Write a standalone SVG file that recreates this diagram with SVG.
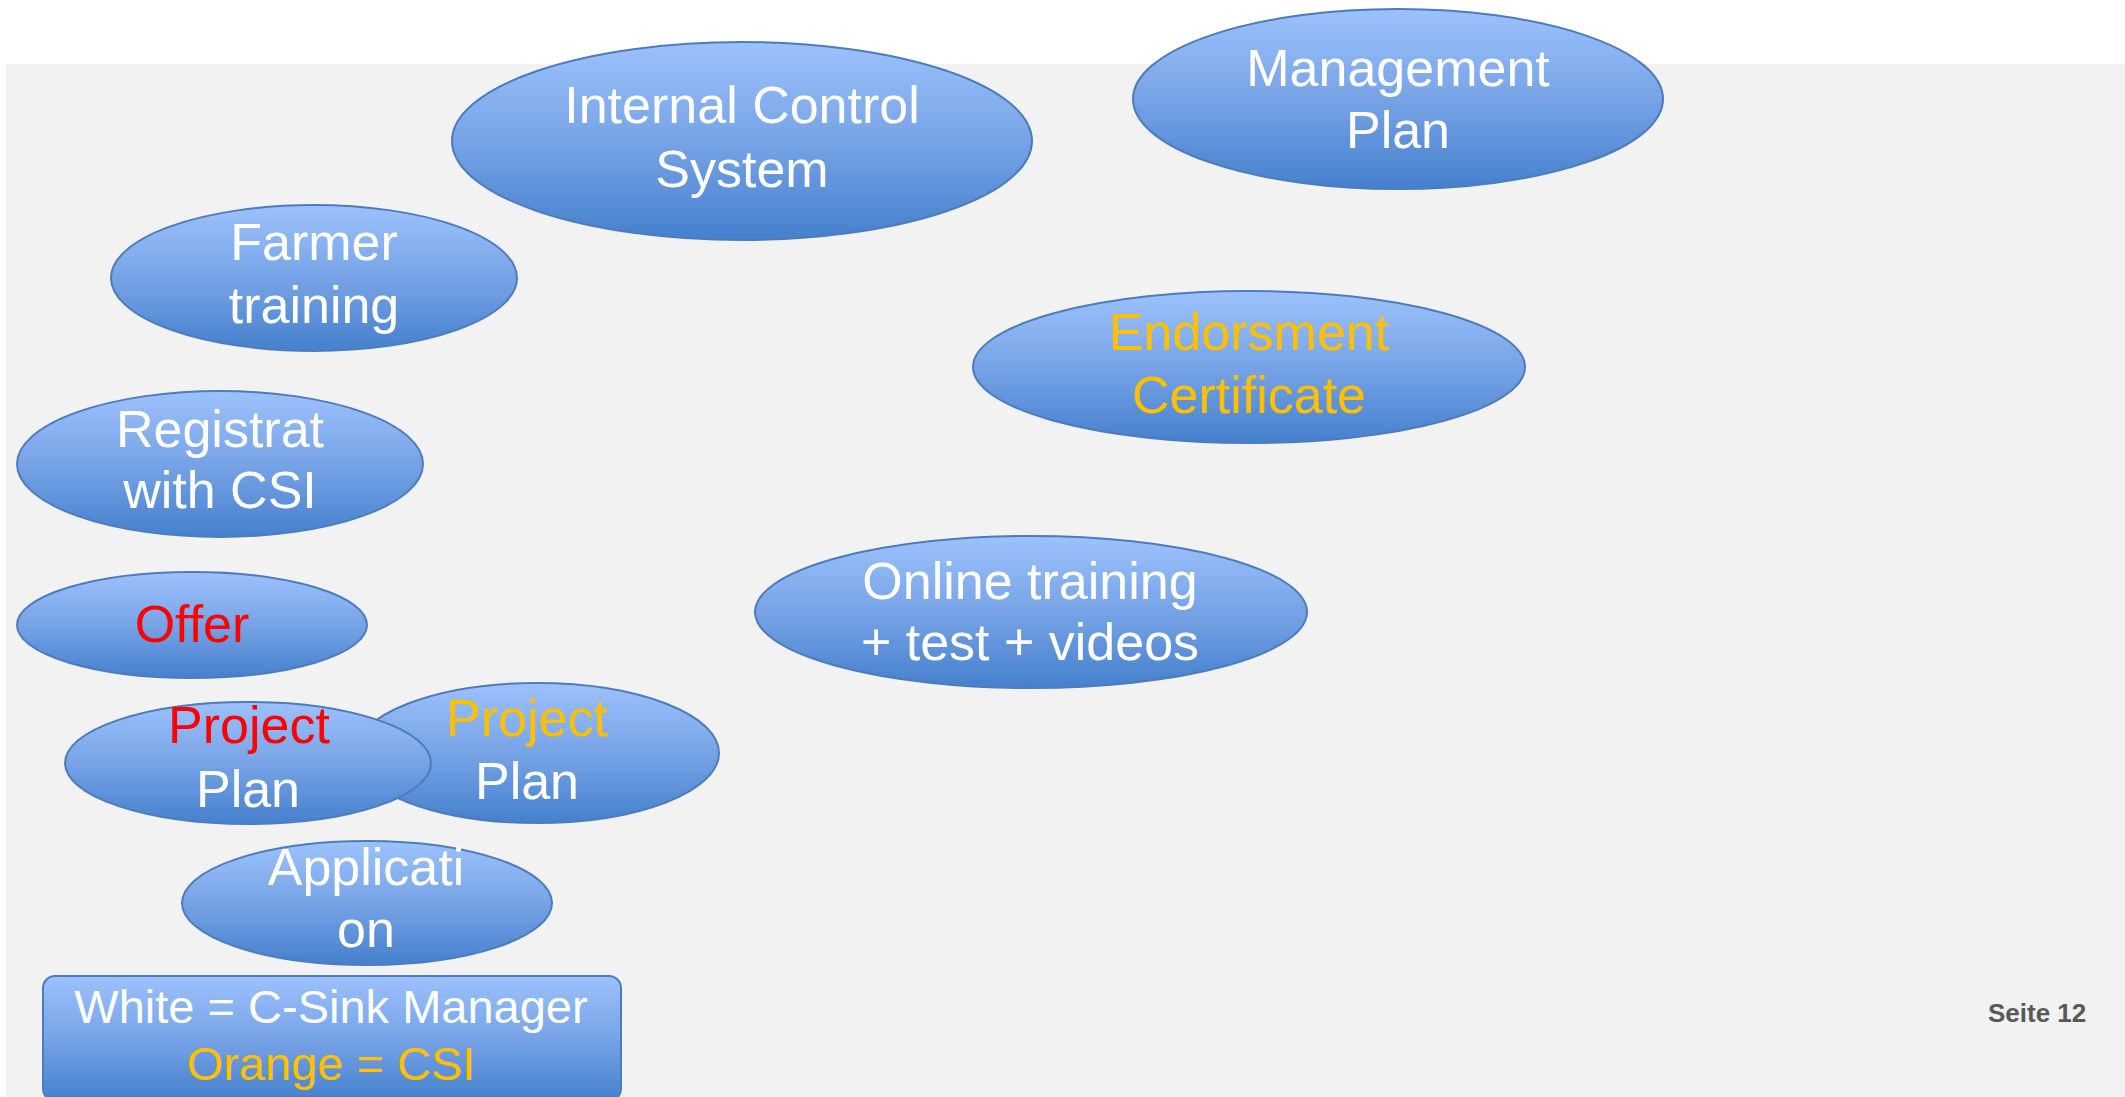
<svg xmlns="http://www.w3.org/2000/svg" width="2125" height="1097" viewBox="0 0 2125 1097">
<defs>
<linearGradient id="blue" x1="0" y1="0" x2="0" y2="1">
<stop offset="0" stop-color="#9CC2FC"/>
<stop offset="0.5" stop-color="#77A3E6"/>
<stop offset="1" stop-color="#4580CD"/>
</linearGradient>
</defs>
<style>
.n{fill:url(#blue);stroke:#4C7CBE;stroke-width:2}
.hl{fill:none;stroke:#2F3F5A;stroke-width:1.5;stroke-dasharray:10 6 3 5}
.t{font-family:"Liberation Sans",Arial,sans-serif;font-size:52px;fill:#FFFFFF;text-anchor:middle}
.lg{font-size:47px}
.o{fill:#FFC000}
.r{fill:#FF0000}
.pg{font-family:"Liberation Sans",Arial,sans-serif;font-size:26px;font-weight:bold;fill:#595959}
</style>
<rect x="0" y="0" width="2125" height="1097" fill="#FFFFFF"/>
<rect x="6" y="64" width="2119" height="1033" fill="#F2F2F2"/>
<g id="connectors"></g>
<g id="internal-control">
<ellipse class="n" cx="742" cy="141" rx="290" ry="99"/>
<text class="t" x="742" y="123">Internal Control</text>
<text class="t" x="742" y="187">System</text>
</g>
<g id="management-plan">
<ellipse class="n" cx="1398" cy="99" rx="265" ry="90"/>
<text class="t" x="1398" y="86">Management</text>
<text class="t" x="1398" y="148">Plan</text>
</g>
<g id="endorsment-certificate">
<ellipse class="n" cx="1249" cy="367" rx="276" ry="76"/>
<text class="t o" x="1249" y="350">Endorsment</text>
<text class="t o" x="1249" y="413">Certificate</text>
</g>
<g id="farmer-training">
<ellipse class="n" cx="314" cy="278" rx="203" ry="73"/>
<text class="t" x="314" y="260">Farmer</text>
<text class="t" x="314" y="323">training</text>
</g>
<g id="registration">
<ellipse class="n" cx="220" cy="464" rx="203" ry="73"/>
<text class="t" x="220" y="447">Registrat</text>
<text class="t" x="220" y="508">with CSI</text>
</g>
<g id="offer">
<ellipse class="n" cx="192" cy="625" rx="175" ry="53"/>
<text class="t r" x="192" y="642">Offer</text>
</g>
<g id="online-training">
<ellipse class="n" cx="1031" cy="612" rx="276" ry="76"/>
<text class="t" x="1030" y="599">Online training</text>
<text class="t" x="1030" y="660">+ test + videos</text>
</g>
<g id="project-plan-csi">
<ellipse class="n" cx="537" cy="753" rx="182" ry="70"/>
<text class="t o" x="527" y="736">Project</text>
<text class="t" x="527" y="799">Plan</text>
</g>
<g id="project-plan-manager">
<ellipse class="n" cx="248" cy="763" rx="183" ry="61"/>
<text class="t r" x="249" y="743">Project</text>
<text class="t" x="248" y="807">Plan</text>
</g>
<g id="application">
<ellipse class="n" cx="367" cy="903" rx="185" ry="62"/>
<text class="t" x="366" y="885">Applicati</text>
<text class="t" x="366" y="947">on</text>
</g>
<g id="legend">
<rect class="n" x="43" y="976" width="578" height="125" rx="12" ry="12"/>
<text class="t lg" x="331" y="1023">White = C-Sink Manager</text>
<text class="t lg o" x="331" y="1080">Orange = CSI</text>
</g>
<text class="pg" x="1988" y="1022">Seite 12</text>
</svg>
